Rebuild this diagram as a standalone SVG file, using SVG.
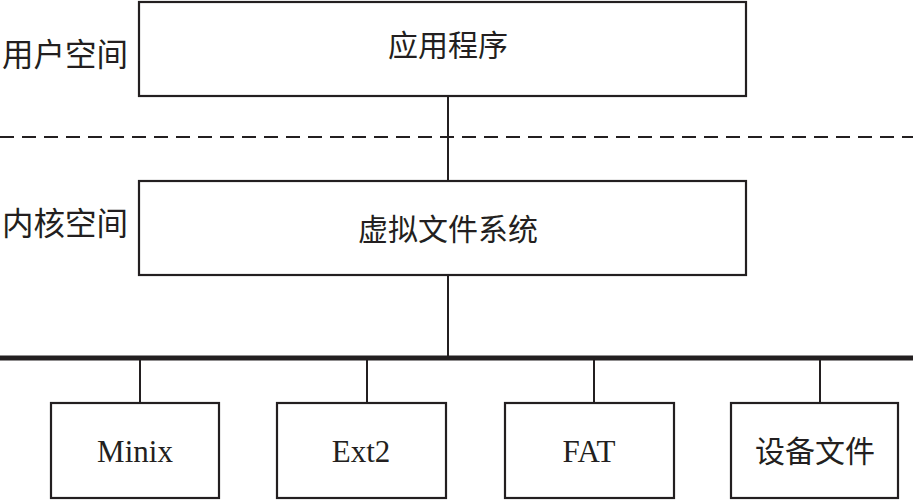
<svg xmlns="http://www.w3.org/2000/svg" width="913" height="500" viewBox="0 0 913 500">
<style>
.box{fill:#fff;stroke:#231f20;stroke-width:2.2}
.ln{stroke:#231f20;stroke-width:2;fill:none}
.cjk{font-family:"Noto Sans CJK SC","Noto Sans CJK TC",sans-serif;font-size:30px;fill:#231f20}
.side{font-size:31.5px}
.lat{font-family:"Liberation Serif","Times New Roman",serif;font-size:31px;fill:#231f20}
</style>
<rect width="913" height="500" fill="#fff"/>
<g id="labels">
<text class="cjk side" x="2" y="66">用户空间</text>
<text class="cjk side" x="2" y="235">内核空间</text>
</g>
<g id="connectors">
<line class="ln" x1="0" y1="137" x2="913" y2="137" stroke-dasharray="14 8"/>
<line class="ln" x1="448" y1="96" x2="448" y2="180"/>
<line class="ln" x1="448" y1="275" x2="448" y2="358"/>
<line x1="0" y1="358" x2="913" y2="358" stroke="#231f20" stroke-width="5"/>
<line class="ln" x1="140" y1="358" x2="140" y2="403"/>
<line class="ln" x1="367" y1="358" x2="367" y2="403"/>
<line class="ln" x1="594" y1="358" x2="594" y2="403"/>
<line class="ln" x1="820" y1="358" x2="820" y2="403"/>
</g>
<g id="app">
<rect class="box" x="139" y="2" width="607" height="94"/>
<text class="cjk" x="448" y="56" text-anchor="middle">应用程序</text>
</g>
<g id="vfs">
<rect class="box" x="139" y="181" width="607" height="94"/>
<text class="cjk" x="448" y="240" text-anchor="middle">虚拟文件系统</text>
</g>
<g id="minix">
<rect class="box" x="51" y="403" width="168" height="95"/>
<text class="lat" x="135" y="462" text-anchor="middle">Minix</text>
</g>
<g id="ext2">
<rect class="box" x="277" y="403" width="169" height="95"/>
<text class="lat" x="361" y="462" text-anchor="middle">Ext2</text>
</g>
<g id="fat">
<rect class="box" x="505" y="403" width="169" height="95"/>
<text class="lat" x="589" y="462" text-anchor="middle">FAT</text>
</g>
<g id="dev">
<rect class="box" x="731" y="403" width="167" height="95"/>
<text class="cjk" x="815" y="462" text-anchor="middle">设备文件</text>
</g>
</svg>
